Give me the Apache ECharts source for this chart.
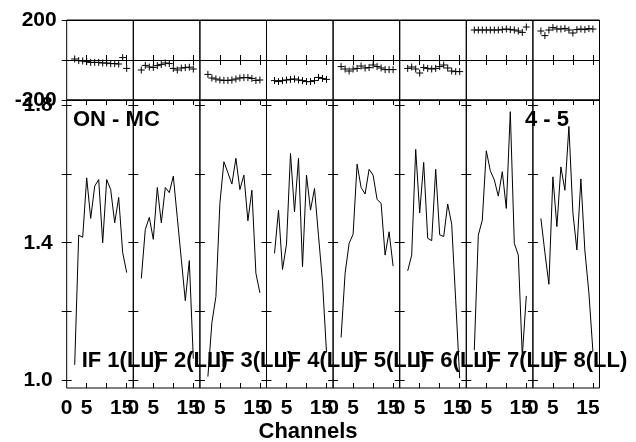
<!DOCTYPE html>
<html>
<head>
<meta charset="utf-8">
<script src="https://cdn.jsdelivr.net/npm/echarts@6/dist/echarts.min.js"></script>
<style>html,body{margin:0;padding:0;background:#fff}#c{width:636px;height:442px}</style>
</head>
<body>
<div id="c"></div>
<script>
// ---- data ----
const channels = [2,3,4,5,6,7,8,9,10,11,12,13,14,15];
const ifLabels = ['IF 1(LL)','IF 2(LL)','IF 3(LL)','IF 4(LL)','IF 5(LL)','IF 6(LL)','IF 7(LL)','IF 8(LL)'];
// top row (phase-like offsets, -200..200)
const top1 = [5,-3,-5,-8,-12,-12,-12,-15,-15,-18,-18,-20,12,-42];
const top2 = [-50,-27,-35,-37,-28,-22,-15,-18,-42,-50,-40,-38,-36,-45];
const top3 = [-72,-90,-95,-100,-102,-102,-100,-95,-90,-88,-88,-92,-102,-100];
const top4 = [-103,-108,-103,-100,-97,-95,-100,-103,-108,-108,-103,-87,-92,-97];
const top5 = [-33,-45,-55,-45,-42,-30,-40,-38,-25,-33,-40,-48,-48,-48];
const top6 = [-42,-35,-45,-65,-38,-42,-45,-42,-33,-25,-40,-55,-58,-58];
const top7 = [150,150,150,150,150,150,150,152,155,152,150,145,138,165];
const top8 = [145,122,150,162,155,155,158,150,135,152,155,152,157,155];
// bottom row (ratio, 1.0..1.8)
const bot1 = [1.044,1.422,1.416,1.589,1.471,1.565,1.584,1.400,1.584,1.555,1.458,1.532,1.371,1.313];
const bot2 = [1.296,1.439,1.474,1.410,1.561,1.458,1.561,1.546,1.594,1.473,1.352,1.231,1.348,1.062];
const bot3 = [1.010,1.167,1.243,1.515,1.636,1.604,1.571,1.646,1.555,1.597,1.464,1.553,1.311,1.254];
const bot4 = [1.369,1.495,1.322,1.396,1.660,1.490,1.646,1.330,1.597,1.495,1.558,1.420,1.286,1.080];
const bot5 = [1.124,1.311,1.398,1.425,1.629,1.561,1.542,1.614,1.597,1.526,1.515,1.364,1.432,1.332];
const bot6 = [1.318,1.364,1.672,1.487,1.634,1.413,1.406,1.614,1.423,1.418,1.513,1.454,1.232,1.005];
const bot7 = [1.087,1.422,1.466,1.668,1.610,1.583,1.536,1.607,1.500,1.782,1.398,1.364,1.070,1.245];
const bot8 = [1.471,1.371,1.279,1.592,1.447,1.621,1.553,1.739,1.487,1.379,1.586,1.376,1.254,1.084];
const topTicks = [-200, 0, 200];
const botTickValues = [1.0, 1.2, 1.4, 1.6, 1.8];
const botLabelValues = [1.0, 1.4, 1.8];
const xTickValues = [5, 10, 15];
const xLabelValues = [0, 5, 15];

const topRows = [top1,top2,top3,top4,top5,top6,top7,top8];
const botRows = [bot1,bot2,bot3,bot4,bot5,bot6,bot7,bot8];

// ---- layout ----
const FONT = 'Liberation Sans, Arial, Helvetica, sans-serif';
const left0 = 66.7, pw = 66.6;
const xMax = 16.65;
const grids = [], xAxes = [], yAxes = [], series = [], graphics = [];

function crossItem(params, api) {
  const p = api.coord([api.value(0), api.value(1)]);
  const h = 3.5;
  return {type:'group', children:[
    {type:'line', shape:{x1:p[0]-h, y1:p[1], x2:p[0]+h, y2:p[1]}, style:{stroke:'#000', lineWidth:1}},
    {type:'line', shape:{x1:p[0], y1:p[1]-h, x2:p[0], y2:p[1]+h}, style:{stroke:'#000', lineWidth:1}}
  ]};
}

for (let row = 0; row < 2; row++) {
  for (let i = 0; i < 8; i++) {
    const g = grids.length;
    const isTop = row === 0;
    grids.push({left: left0 + pw*i, width: pw, top: isTop ? 20 : 100, height: isTop ? 80 : 288,
      show: true, borderColor: '#000', borderWidth: 1, backgroundColor: 'transparent'});
    const tickX = {show: true, inside: true, length: 5, customValues: xTickValues, lineStyle:{color:'#000'}};
    xAxes.push({type:'value', gridIndex:g, position:'bottom', min:0, max:xMax,
      axisLine:{show:false}, splitLine:{show:false}, axisTick: tickX,
      axisLabel: (!isTop) ? {show:true, customValues: xLabelValues, margin: 10,
        fontSize: 21, fontWeight:'bold', fontFamily: FONT, color:'#000',
        formatter: v => v === 15 ? '{s|15}' : String(v),
        rich: {s: {fontSize:21, fontWeight:'bold', fontFamily:FONT, color:'#000', padding:[0,10,0,0]}}} : {show:false}});
    xAxes.push({type:'value', gridIndex:g, position:'top', min:0, max:xMax,
      axisLine:{show:false}, splitLine:{show:false}, axisTick: tickX, axisLabel:{show:false}});
    if (isTop) {
      yAxes.push({type:'value', gridIndex:g, position:'left', min:-200, max:200, interval:200,
        axisLine:{show:false}, splitLine:{show:true, lineStyle:{color:'#000', width:1}},
        axisTick:{show:true, inside:true, length:5, lineStyle:{color:'#000'}},
        axisLabel: i === 0 ? {show:true, margin:10, fontSize:21, fontWeight:'bold', fontFamily:FONT, color:'#000',
          formatter: v => v === 0 ? '' : String(v)} : {show:false}});
      yAxes.push({type:'value', gridIndex:g, position:'right', min:-200, max:200, interval:200,
        axisLine:{show:false}, splitLine:{show:false},
        axisTick:{show:true, inside:true, length:5, lineStyle:{color:'#000'}}, axisLabel:{show:false}});
      series.push({type:'custom', xAxisIndex: 2*g, yAxisIndex: 2*g, renderItem: crossItem,
        data: channels.map((c, k) => [c, topRows[i][k]]), silent: true});
    } else {
      const tY = {show:true, inside:true, length:5, customValues: botTickValues, lineStyle:{color:'#000'}};
      yAxes.push({type:'value', gridIndex:g, position:'left', min:0.9767, max:1.816,
        axisLine:{show:false}, splitLine:{show:false}, axisTick: tY,
        axisLabel: i === 0 ? {show:true, customValues: botLabelValues, margin:14, fontSize:21, fontWeight:'bold',
          fontFamily:FONT, color:'#000', formatter: v => v.toFixed(1)} : {show:false}});
      yAxes.push({type:'value', gridIndex:g, position:'right', min:0.9767, max:1.816,
        axisLine:{show:false}, splitLine:{show:false}, axisTick: tY, axisLabel:{show:false}});
      series.push({type:'line', xAxisIndex: 2*g, yAxisIndex: 2*g, showSymbol:false, symbol:'none',
        lineStyle:{color:'#000', width:1}, data: channels.map((c, k) => [c, botRows[i][k]]), silent:true});
      graphics.push({type:'text', x: left0 + pw*i + 15, y: 361, silent:true,
        style:{text: ifLabels[i], fill:'#000', fontSize:22, fontWeight:'bold', fontFamily:FONT,
          align:'left', verticalAlign:'middle'}});
    }
  }
}

graphics.push({type:'text', x:73, y:120, style:{text:'ON - MC', fill:'#000', fontSize:22, fontWeight:'bold', fontFamily:FONT, align:'left', verticalAlign:'middle'}});
graphics.push({type:'text', x:525, y:120, style:{text:'4 - 5', fill:'#000', fontSize:22, fontWeight:'bold', fontFamily:FONT, align:'left', verticalAlign:'middle'}});
graphics.push({type:'text', x:308, y:432, style:{text:'Channels', fill:'#000', fontSize:22, fontWeight:'bold', fontFamily:FONT, align:'center', verticalAlign:'middle'}});

const chart = echarts.init(document.getElementById('c'));
chart.setOption({animation:false, backgroundColor:'#fff', grid: grids, xAxis: xAxes, yAxis: yAxes, series: series, graphic: graphics});
</script>
</body>
</html>
